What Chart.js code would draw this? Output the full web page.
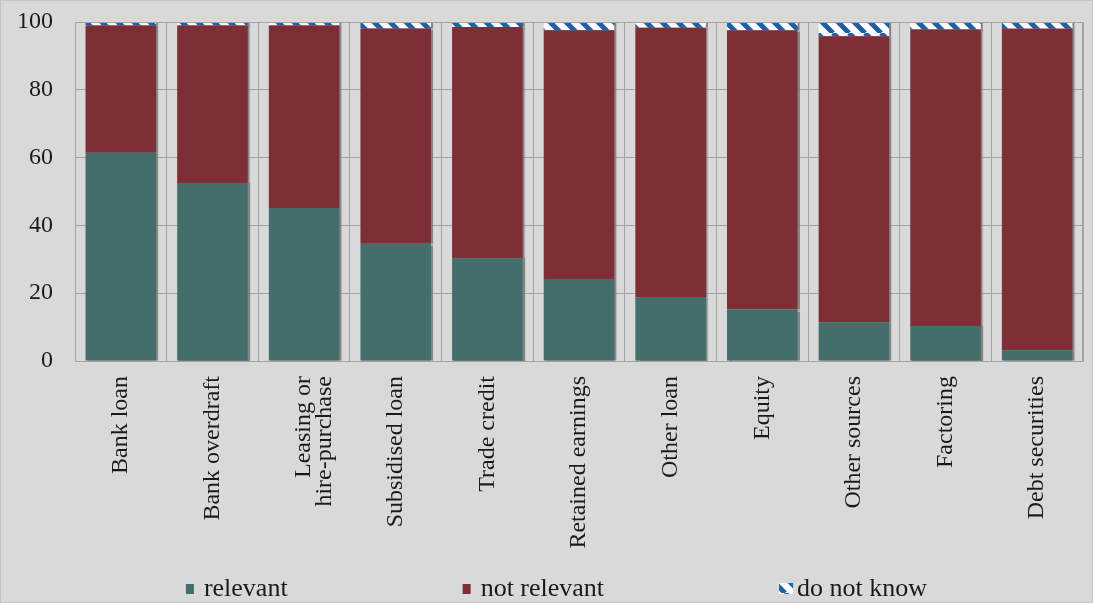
<!DOCTYPE html>
<html>
<head>
<meta charset="utf-8">
<script src="https://cdn.jsdelivr.net/npm/chart.js@4.4.1/dist/chart.umd.min.js"></script>
<style>
  html, body { margin: 0; padding: 0; background: #d9d9d9; }
  #wrap { width: 1093px; height: 603px; position: relative; box-sizing: border-box; border: 1px solid #c4c4c4; }
</style>
</head>
<body>
<div id="wrap"><canvas id="grafico"></canvas></div>
<script>
// Categorias e valores (%)
const categorias = [
  "Bank loan",
  "Bank overdraft",
  ["Leasing or", "hire-purchase"],
  "Subsidised loan",
  "Trade credit",
  "Retained earnings",
  "Other loan",
  "Equity",
  "Other sources",
  "Factoring",
  "Debt securities"
];
const relevante = [61.4, 52.5, 45.1, 34.8, 30.3, 24.2, 18.7, 15.2, 11.4, 10.3, 3.2];
const naoRelevante = [37.6, 46.5, 53.9, 63.3, 68.2, 73.4, 79.6, 82.4, 84.4, 87.5, 94.8];
const naoSabe = [1.0, 1.0, 1.0, 1.9, 1.5, 2.4, 1.7, 2.4, 4.2, 2.2, 2.0];
const ticksY = [0, 20, 40, 60, 80, 100];

const fonte = "'Liberation Serif', 'Times New Roman', serif";
const corTexto = "#1a1a1a";
const corGrade = "#a3a3a3";

// Padrão listrado para "do not know"
function criarHachura() {
  const c = document.createElement("canvas");
  c.width = 16; c.height = 16;
  const g = c.getContext("2d");
  g.fillStyle = "#ffffff";
  g.fillRect(0, 0, 16, 16);
  g.strokeStyle = "#1f5fa6";
  g.lineWidth = 5;
  [-16, 0, 16].forEach(dx => {
    g.beginPath();
    g.moveTo(dx, 0);
    g.lineTo(dx + 16, 16);
    g.stroke();
  });
  return g.createPattern(c, "repeat");
}
const hachura = criarHachura();

// Sombra leve à direita das barras
const sombra = {
  id: "sombra",
  beforeDatasetsDraw(chart) {
    const c = chart.ctx;
    c.save();
    c.shadowColor = "rgba(110,110,110,0.8)";
    c.shadowOffsetX = 2;
    c.shadowOffsetY = 0;
    c.shadowBlur = 1;
  },
  afterDatasetsDraw(chart) {
    chart.ctx.restore();
  }
};

// Moldura da área do gráfico (topo e direita)
const moldura = {
  id: "moldura",
  afterDraw(chart) {
    const { ctx, chartArea: a } = chart;
    ctx.save();
    ctx.strokeStyle = corGrade;
    ctx.lineWidth = 1;
    ctx.strokeRect(a.left + 0.5, a.top + 0.5, a.right - a.left - 1, a.bottom - a.top);
    ctx.restore();
  }
};

// Legenda desenhada embaixo, com itens bem espaçados
const legenda = {
  id: "legenda",
  afterDraw(chart) {
    const ctx = chart.ctx;
    const itens = chart.data.datasets.map(d => ({ texto: d.label, cor: d.backgroundColor }));
    const espaco = 175;
    ctx.save();
    ctx.font = `26px ${fonte}`;
    ctx.textBaseline = "middle";
    const larguras = itens.map((it, i) => {
      const caixa = i === 2 ? 14 : 8;
      return caixa + (i === 2 ? 4 : 10) + ctx.measureText(it.texto).width;
    });
    const total = larguras.reduce((s, w) => s + w, 0) + espaco * (itens.length - 1);
    let x = chart.width / 2 + 10 - total / 2;
    const y = chart.height - 13;
    itens.forEach((it, i) => {
      const caixa = i === 2 ? 14 : 8;
      ctx.fillStyle = it.cor;
      if (i === 2) {
        ctx.fillRect(x, y - 6, caixa, 11);
      } else {
        ctx.fillRect(x, y - 5, caixa, 10);
      }
      ctx.fillStyle = corTexto;
      ctx.fillText(it.texto, x + caixa + (i === 2 ? 4 : 10), y);
      x += larguras[i] + espaco;
    });
    ctx.restore();
  }
};

const ctx = document.getElementById("grafico");
new Chart(ctx, {
  type: "bar",
  data: {
    labels: categorias,
    datasets: [
      { label: "relevant", data: relevante, backgroundColor: "#436e6b", borderWidth: 0 },
      { label: "not relevant", data: naoRelevante, backgroundColor: "#7e2f35", borderWidth: 0 },
      { label: "do not know", data: naoSabe, backgroundColor: hachura, borderWidth: 0 }
    ]
  },
  options: {
    responsive: true,
    maintainAspectRatio: false,
    animation: false,
    layout: { padding: { top: 21, right: 9, left: 16, bottom: 42 } },
    datasets: { bar: { categoryPercentage: 1, barPercentage: 0.77 } },
    plugins: {
      tooltip: { enabled: false },
      legend: { display: false }
    },
    scales: {
      x: {
        stacked: true,
        // marcas invisíveis servem só de afastamento dos rótulos
        grid: { color: corGrade, drawTicks: true, tickLength: 15, tickColor: "rgba(0,0,0,0)", offset: true },
        border: { color: corGrade },
        afterFit: axis => { axis.height = 199; },
        ticks: {
          color: corTexto,
          font: { family: fonte, size: 24, lineHeight: 0.85 },
          minRotation: 90,
          maxRotation: 90,
          padding: 0,
          autoSkip: false
        }
      },
      y: {
        stacked: true,
        min: 0,
        max: 100,
        afterBuildTicks: axis => { axis.ticks = ticksY.map(v => ({ value: v })); },
        grid: { color: corGrade, drawTicks: true, tickLength: 22, tickColor: "rgba(0,0,0,0)" },
        border: { color: corGrade },
        ticks: {
          color: corTexto,
          font: { family: fonte, size: 24 },
          padding: 0,
          autoSkip: false
        }
      }
    }
  },
  plugins: [sombra, moldura, legenda]
});
</script>
</body>
</html>
